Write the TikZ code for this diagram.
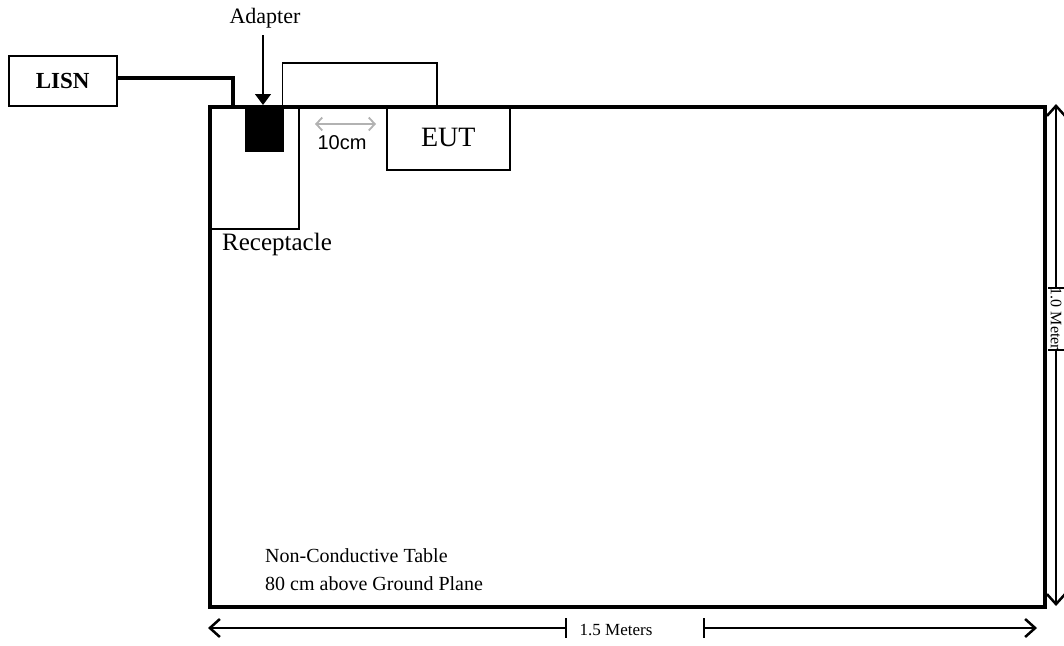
\documentclass[tikz,border=0pt]{standalone}
\usepackage{fontspec}
\setmainfont{Liberation Serif}
\newfontfamily\arialfont{Liberation Sans}
\usetikzlibrary{arrows.meta}
\tikzstyle{box} = [rectangle, draw=black, line width=1.5pt, inner sep=0pt, anchor=north west]
\tikzstyle{label} = [inner sep=0pt, font=\fontsize{22}{26}\selectfont]
\tikzstyle{dimlabel} = [inner sep=0pt, font=\fontsize{16}{19}\selectfont]
\tikzstyle{cable} = [line width=3.5pt]
\tikzstyle{lead} = [line width=1.5pt]
\tikzstyle{dim} = [line width=1.2pt, -{Straight Barb[length=10pt,width=18pt,line width=2.5pt]}]
\tikzstyle{tick} = [line width=1.2pt]

\begin{document}
\begin{tikzpicture}[x=1pt, y=-1pt]
    \useasboundingbox (0,0) rectangle (1064,645);

    % Nodes
    \node (table) [box, line width=3.5pt, minimum width=835pt, minimum height=500pt] at (208,105) {};
    \node (lisn) [box, minimum width=108pt, minimum height=50pt, font=\fontsize{23}{26}\selectfont] at (8,55) {\textbf{LISN}};
    \node (recept) [box, minimum width=88pt, minimum height=123pt] at (210,105) {};
    \node (adapter) [box, fill=black, minimum width=37pt, minimum height=45pt] at (245,105) {};
    \node (eut) [box, minimum width=123pt, minimum height=64pt, font=\fontsize{28}{30}\selectfont] at (386,105) {EUT};
    \node (receptlabel) [label, anchor=base west, font=\fontsize{25}{28}\selectfont] at (222,250) {Receptacle};
    \node (adapterlabel) [label, anchor=base] at (265,23) {Adapter};
    \node (tablelabel) [label, anchor=north west, align=left, font=\fontsize{20}{28}\selectfont] at (265,548) {Non-Conductive Table\\80 cm above Ground Plane};
    \node (gaplabel) [inner sep=0pt, font=\arialfont\fontsize{20}{22}\selectfont] at (342,143) {10cm};
    \node (widthlabel) [dimlabel, font=\fontsize{17}{19}\selectfont] at (616,630) {1.5 Meters};
    \node (depthlabel) [dimlabel, rotate=-90] at (1056,319) {1.0 Meter};

    % Points
    \coordinate (plug) at (233,105);
    \coordinate (eutin) at (437,105);
    \coordinate (adaptertop) at (263,35);
    \coordinate (gapL) at (315,124);
    \coordinate (gapR) at (376,124);
    \coordinate (wL) at (208,628);
    \coordinate (wR) at (1037,628);
    \coordinate (wT1) at (566,628);
    \coordinate (wT2) at (704,628);
    \coordinate (dT) at (1056,104);
    \coordinate (dB) at (1056,606);
    \coordinate (dT1) at (1056,288);
    \coordinate (dT2) at (1056,350);

    % Cables
    \draw [cable] ([yshift=3pt]lisn.east) -| (plug);
    \draw [lead] ([xshift=-1pt]adapter.north east) -- ++(0,-42) -| (eutin);

    % Arrows
    \draw [line width=1.2pt, -{Triangle[length=11pt,width=16pt]}] (adaptertop) -- (adapter.north -| adaptertop);
    \draw [line width=1.8pt, gray!60, {Straight Barb[length=6pt,width=13pt]}-{Straight Barb[length=6pt,width=13pt]}] (gapL) -- (gapR);
    \draw [dim] (wT1) -- (wL);
    \draw [dim] (wT2) -- (wR);
    \draw [dim] (dT1) -- (dT);
    \draw [dim] (dT2) -- (dB);

    % Ticks
    \draw [tick] ([yshift=10pt]wT1) -- ([yshift=-10pt]wT1);
    \draw [tick] ([yshift=10pt]wT2) -- ([yshift=-10pt]wT2);
    \draw [tick] ([xshift=-8pt]dT1) -- ([xshift=8pt]dT1);
    \draw [tick] ([xshift=-8pt]dT2) -- ([xshift=8pt]dT2);

\end{tikzpicture}
\end{document}
